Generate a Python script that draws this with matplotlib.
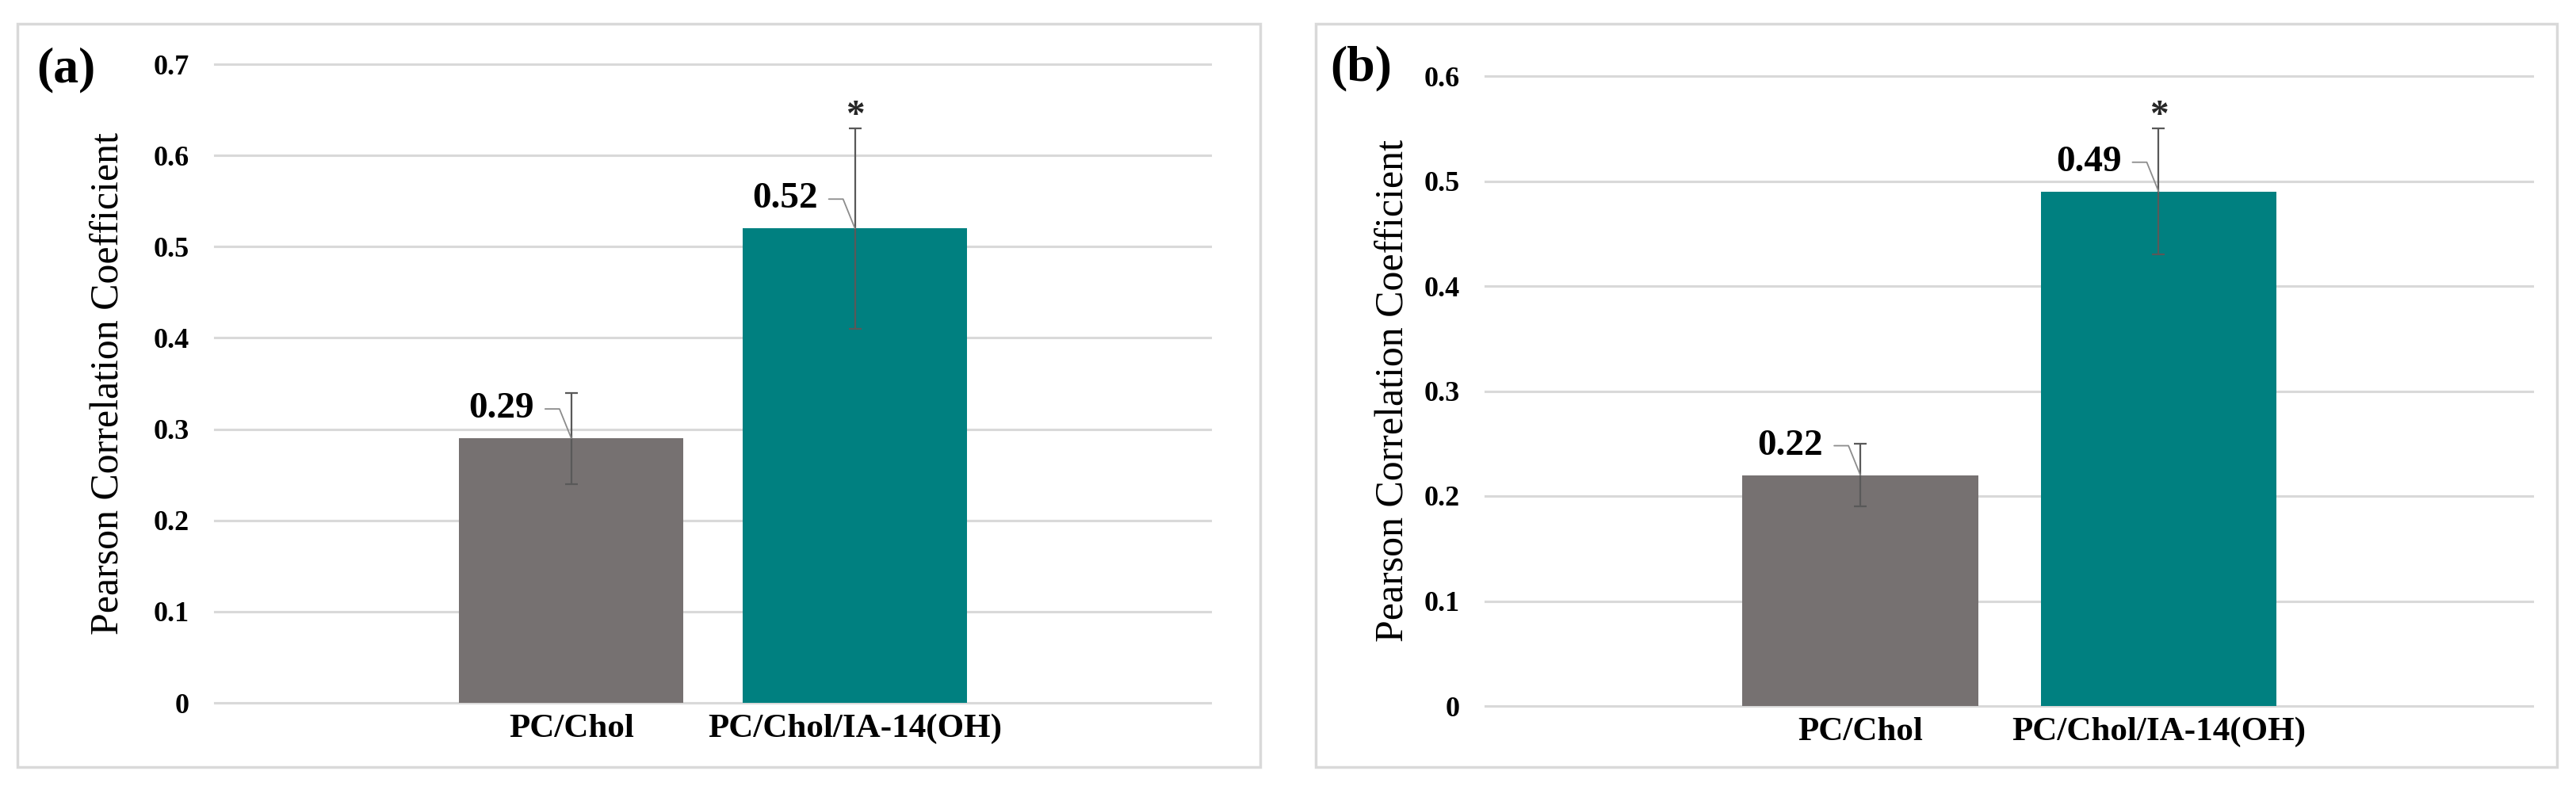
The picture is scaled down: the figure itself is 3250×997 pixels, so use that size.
import matplotlib.pyplot as plt
from matplotlib.patches import Rectangle

# data
categories = ['PC/Chol', 'PC/Chol/IA-14(OH)']
pcc_a = [0.29, 0.52]
err_a = [0.05, 0.11]
pcc_b = [0.22, 0.49]
err_b = [0.03, 0.06]
signif = ['', '*']
yticks_a = [0, 0.1, 0.2, 0.3, 0.4, 0.5, 0.6, 0.7]
yticks_b = [0, 0.1, 0.2, 0.3, 0.4, 0.5, 0.6]
tags = ['(a)', '(b)']

bar_colors = ['#767171', '#008080']
W, H = 3250, 997

plt.rcParams['font.family'] = ['Liberation Serif', 'DejaVu Serif']

fig = plt.figure(figsize=(W / 100, H / 100), dpi=100)


def tick_fmt(v):
    return '0' if v == 0 else f'{v:g}'


def panel(px, frame, vals, errs, yticks, tag, tag_xy, ylab_x):
    # px = left, top, right, bottom of plot area in pixels
    l, t, r, b = px
    ax = fig.add_axes([l / W, 1 - b / H, (r - l) / W, (b - t) / H])

    fl, ft, fr, fb = frame
    fig.patches.append(Rectangle((fl / W, 1 - fb / H), (fr - fl) / W, (fb - ft) / H,
                                 transform=fig.transFigure, fill=False,
                                 edgecolor='#d9d9d9', lw=2.5))

    x = range(len(categories))
    ax.bar(x, vals, width=0.79, color=bar_colors, zorder=2)
    ax.errorbar(x, vals, yerr=errs, fmt='none', ecolor='#595959',
                elinewidth=1.6, capsize=5.5, capthick=1.6, zorder=4)

    for i, v in enumerate(vals):
        ax.annotate('', xy=(i, v), xytext=(-33, 37), textcoords='offset pixels',
                    arrowprops=dict(arrowstyle='-', color='#8c8c8c', lw=1.3,
                                    shrinkA=0, shrinkB=0,
                                    connectionstyle='angle,angleA=0,angleB=112,rad=0'),
                    zorder=5)
        ax.annotate(f'{v:.2f}', xy=(i, v), xytext=(-47, 37), textcoords='offset pixels',
                    ha='right', va='center', fontsize=34, weight='bold')
        if signif[i]:
            ax.annotate(signif[i], xy=(i, v + errs[i]), xytext=(0, 4),
                        textcoords='offset pixels', ha='center', va='baseline',
                        fontsize=34, weight='bold', color='#262626')

    ax.set_xlim(-1.257, 2.253)
    ax.set_ylim(0, yticks[-1])
    ax.set_xticks(list(x))
    ax.set_xticklabels(categories, fontsize=31, weight='bold')
    ax.set_yticks(yticks)
    ax.set_yticklabels([tick_fmt(v) for v in yticks], fontsize=26, weight='bold')
    ax.tick_params(axis='x', length=0, pad=10)
    ax.tick_params(axis='y', length=0, pad=23)
    for s in ax.spines.values():
        s.set_visible(False)
    ax.yaxis.grid(True, color='#d9d9d9', lw=2.2)
    for gl in ax.get_ygridlines():
        gl.set_clip_on(False)
    ax.set_axisbelow(True)

    ax.set_ylabel('Pearson Correlation Coefficient', fontsize=36)
    ax.yaxis.set_label_coords(ylab_x, 0.5)

    fig.text(tag_xy[0] / W, 1 - tag_xy[1] / H, tag, ha='center', va='center',
             fontsize=46, weight='bold')
    return ax


panel((271, 81, 1527, 887), (22, 30, 1590, 968), pcc_a, err_a, yticks_a,
      tags[0], (83, 88), -0.0876)
panel((1874, 96, 3195, 891), (1660, 30, 3226, 968), pcc_b, err_b, yticks_b,
      tags[1], (1717, 86), -0.0704)

fig.savefig('out.png', dpi=100)
